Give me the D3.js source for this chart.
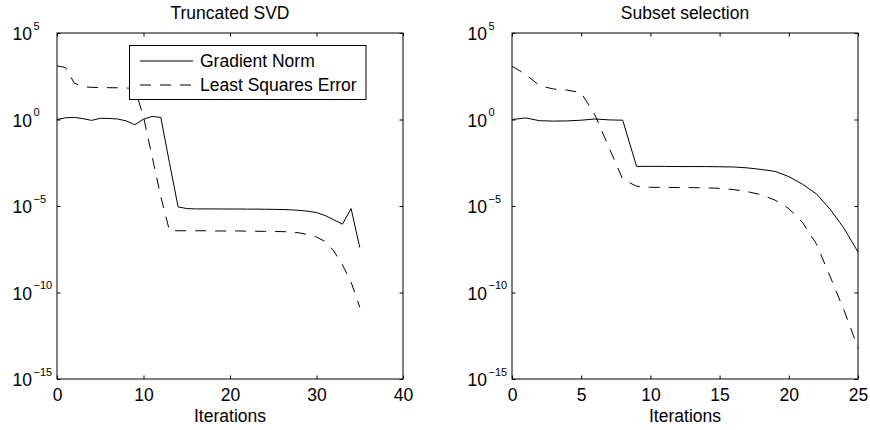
<!DOCTYPE html>
<html>
<head>
<meta charset="utf-8">
<script src="https://cdn.jsdelivr.net/npm/d3@7"></script>
<style>
  body { margin: 0; background: #fff; }
  text { font-family: "Liberation Sans", Arial, Helvetica, sans-serif; fill: #000; }
</style>
</head>
<body>
<div id="chart"></div>
<script>
// iterations
var svdIter = d3.range(0, 36);
var subIter = d3.range(0, 26);

// Truncated SVD
var svdGrad = [1.0, 1.26, 1.32, 1.12, 0.89, 1.17, 1.15, 1.07, 0.83, 0.5,
  1.05, 1.5, 1.32, 3.2e-3, 8.9e-6, 7.1e-6, 6.8e-6, 6.8e-6, 6.8e-6, 6.7e-6,
  6.7e-6, 6.7e-6, 6.6e-6, 6.6e-6, 6.5e-6, 6.4e-6, 6.3e-6, 6.0e-6, 5.6e-6, 5.0e-6,
  4.2e-6, 2.8e-6, 1.6e-6, 8.9e-7, 7.1e-6, 4.0e-8];
var svdLse = [1.26e3, 1.0e3, 126, 79, 72, 71, 69, 68, 66, 63,
  1.4, 7.1e-3, 3.5e-5, 3.8e-7, 3.7e-7, 3.7e-7, 3.7e-7, 3.7e-7, 3.6e-7, 3.6e-7,
  3.6e-7, 3.6e-7, 3.5e-7, 3.5e-7, 3.4e-7, 3.4e-7, 3.3e-7, 3.2e-7, 2.8e-7, 2.2e-7,
  1.6e-7, 8.9e-8, 2.5e-8, 4.0e-9, 4.0e-10, 1.4e-11];

// Subset selection
var subGrad = [1.0, 1.23, 0.85, 0.81, 0.83, 0.91, 1.07, 0.95, 0.91, 1.95e-3,
  1.95e-3, 1.95e-3, 1.9e-3, 1.9e-3, 1.9e-3, 1.85e-3, 1.8e-3, 1.6e-3, 1.3e-3, 1.0e-3,
  5.0e-4, 1.8e-4, 5.0e-5, 6.3e-6, 5.0e-7, 2.2e-8];
var subLse = [1.2e3, 400, 89, 58, 50, 35, 1.8, 0.025, 3.5e-4, 1.4e-4,
  1.2e-4, 1.2e-4, 1.17e-4, 1.15e-4, 1.12e-4, 1.05e-4, 8.9e-5, 6.8e-5, 4.5e-5, 2.2e-5,
  7.1e-6, 1.1e-6, 6.3e-8, 7.9e-10, 8.9e-12, 6.3e-14];

var yTickExp = [5, 0, -5, -10, -15];
var svdXTicks = [0, 10, 20, 30, 40];
var subXTicks = [0, 5, 10, 15, 20, 25];
var legendLabels = ["Gradient Norm", "Least Squares Error"];

var width = 870, height = 430,
    plotTop = 33, plotBottom = 379, fs = 17.5;

var svg = d3.select("#chart").append("svg")
  .attr("width", width)
  .attr("height", height);

var y = d3.scaleLog().domain([1e-15, 1e5]).range([plotBottom, plotTop]);
var yTicks = yTickExp.map(function (e) { return Math.pow(10, e); });

function panel(opts) {
  var x = d3.scaleLinear().domain(opts.xDomain).range([opts.left, opts.right]);
  var g = svg.append("g");
  var cx = (opts.left + opts.right) / 2;

  var line = d3.line()
    .x(function (d) { return x(d[0]); })
    .y(function (d) { return y(d[1]); });

  g.append("path")
    .datum(opts.iter.map(function (k, i) { return [k, opts.grad[i]]; }))
    .attr("d", line)
    .attr("fill", "none")
    .attr("stroke", "#000")
    .attr("stroke-width", 1);

  g.append("path")
    .datum(opts.iter.map(function (k, i) { return [k, opts.lse[i]]; }))
    .attr("d", line)
    .attr("fill", "none")
    .attr("stroke", "#000")
    .attr("stroke-width", 1)
    .attr("stroke-dasharray", "11,9");

  // box + inward ticks on all sides
  var bx = g.append("g").attr("transform", "translate(0," + plotBottom + ")")
    .call(d3.axisBottom(x).tickValues(opts.xTicks).tickSize(-3.5).tickPadding(9.4));
  g.append("g").attr("transform", "translate(0," + plotTop + ")")
    .call(d3.axisTop(x).tickValues(opts.xTicks).tickSize(-3.5).tickFormat(""));
  g.append("g").attr("transform", "translate(" + opts.left + ",0)")
    .call(d3.axisLeft(y).tickValues(yTicks).tickSize(-3.5).tickFormat(""));
  g.append("g").attr("transform", "translate(" + opts.right + ",0)")
    .call(d3.axisRight(y).tickValues(yTicks).tickSize(-3.5).tickFormat(""));
  g.selectAll(".domain").remove();
  g.selectAll(".tick line").attr("stroke", "#000");
  bx.selectAll("text")
    .style("font-size", fs + "px")
    .style("font-family", "'Liberation Sans', Arial, sans-serif")
    .attr("fill", "#000");

  g.append("rect")
    .attr("x", opts.left).attr("y", plotTop)
    .attr("width", opts.right - opts.left).attr("height", plotBottom - plotTop)
    .attr("fill", "none").attr("stroke", "#000").attr("stroke-width", 1);

  // y labels 10^n
  var yl = g.selectAll(".ylab").data(yTickExp).enter()
    .append("text")
    .attr("class", "ylab")
    .attr("x", opts.left - 44.5)
    .attr("y", function (d) { return y(Math.pow(10, d)) + 7; })
    .style("font-size", fs + "px")
    .text("10");
  yl.append("tspan")
    .attr("dy", -10.5)
    .attr("dx", 1.5)
    .style("font-size", "11px")
    .text(function (d) { return d < 0 ? "\u2212" + (-d) : d; });

  g.append("text")
    .attr("x", cx).attr("y", 19.3)
    .attr("text-anchor", "middle")
    .style("font-size", fs + "px")
    .text(opts.title);

  g.append("text")
    .attr("x", cx).attr("y", 422)
    .attr("text-anchor", "middle")
    .style("font-size", fs + "px")
    .text("Iterations");

  return x;
}

panel({ left: 57, right: 403, xDomain: [0, 40], xTicks: svdXTicks,
  iter: svdIter, grad: svdGrad, lse: svdLse, title: "Truncated SVD" });
panel({ left: 512, right: 858, xDomain: [0, 25], xTicks: subXTicks,
  iter: subIter, grad: subGrad, lse: subLse, title: "Subset selection" });

// legend (left panel)
var leg = svg.append("g");
leg.append("rect")
  .attr("x", 129.5).attr("y", 45.5)
  .attr("width", 236.5).attr("height", 54)
  .attr("fill", "#fff").attr("stroke", "#000").attr("stroke-width", 1);
legendLabels.forEach(function (lab, i) {
  var ly = 61 + i * 24;
  leg.append("line")
    .attr("x1", 140).attr("x2", 193)
    .attr("y1", ly).attr("y2", ly)
    .attr("stroke", "#000").attr("stroke-width", 1)
    .attr("stroke-dasharray", i ? "11,9" : null);
  leg.append("text")
    .attr("x", 200).attr("y", ly + 6)
    .style("font-size", fs + "px")
    .text(lab);
});
</script>
</body>
</html>
